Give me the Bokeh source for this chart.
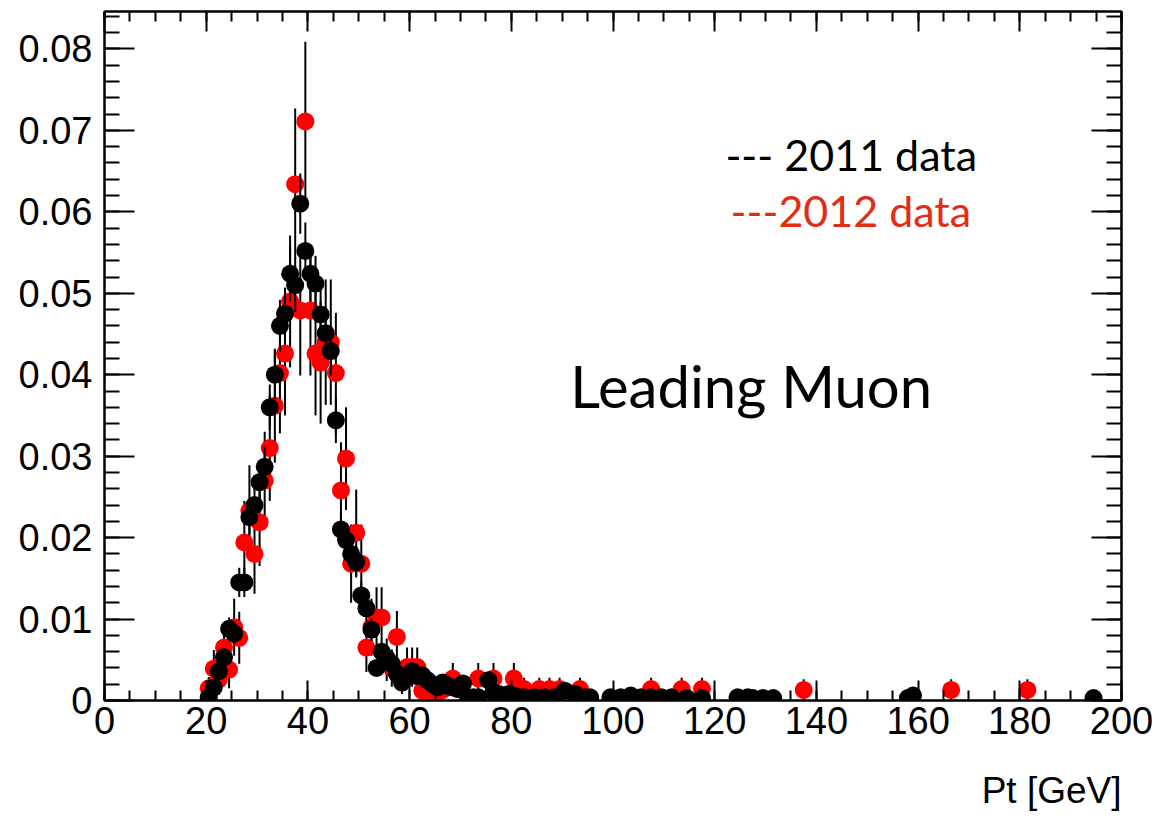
import numpy as np
from bokeh.plotting import figure
from bokeh.models import (LinearAxis, Range1d, SingleIntervalTicker,
                          CustomJSTickFormatter, Label, Title, ColumnDataSource)
from bokeh.embed import file_html
from bokeh.resources import INLINE

# ---------------- data ----------------
pt_2011 = [20.5, 21.5, 22.5, 23.5, 24.5, 25.5, 26.5, 27.5, 28.5, 29.5,
           30.5, 31.5, 32.5, 33.5, 34.5, 35.5, 36.5, 37.5, 38.5, 39.5,
           40.5, 41.5, 42.5, 43.5, 44.5, 45.5, 46.5, 47.5, 48.5, 49.5,
           50.5, 51.5, 52.5, 53.5, 54.5, 55.5, 56.5, 57.5, 58.5, 59.5,
           60.5, 61.5, 62.5, 63.5, 64.5, 65.5, 66.5, 67.5, 68.5, 69.5,
           70.5, 71.5, 72.5, 73.5, 75.5, 76.5, 77.5, 78.5, 79.5, 80.5,
           81.5, 82.5, 84.5, 86.5, 88.5, 90.5, 92.5, 94.5, 95.5, 99.5,
           101.5, 103.5, 105.5, 107.5, 109.5, 111.5, 114.5, 117.5, 124.5, 126.5,
           127.5, 129.5, 131.5, 158.0, 159.0, 194.5]
val_2011 = [0.0004, 0.0016, 0.0036, 0.0053, 0.0088, 0.0082, 0.0145, 0.0145, 0.0225, 0.0240,
            0.0268, 0.0287, 0.0360, 0.0400, 0.0460, 0.0475, 0.0524, 0.0510, 0.0610, 0.0552,
            0.0524, 0.0512, 0.0474, 0.0451, 0.0429, 0.0344, 0.0210, 0.0197, 0.0180, 0.0170,
            0.0129, 0.0113, 0.0087, 0.0040, 0.0060, 0.0052, 0.0045, 0.0033, 0.0022, 0.0029,
            0.0036, 0.0030, 0.0031, 0.0025, 0.0020, 0.0016, 0.0022, 0.0018, 0.0016, 0.0014,
            0.0021, 0.0004, 0.0004, 0.0004, 0.0025, 0.0010, 0.0008, 0.0006, 0.0008, 0.0006,
            0.0004, 0.0004, 0.0004, 0.0004, 0.0004, 0.0012, 0.0008, 0.0004, 0.0004, 0.0004,
            0.0004, 0.0006, 0.0004, 0.0004, 0.0004, 0.0004, 0.0003, 0.0003, 0.0004, 0.0004,
            0.0003, 0.0003, 0.0003, 0.0003, 0.0006, 0.0003]
err_2011 = [0.0003, 0.0006, 0.0009, 0.0011, 0.0014, 0.0013, 0.0018, 0.0018, 0.0022, 0.0023,
            0.0024, 0.0025, 0.0028, 0.0030, 0.0032, 0.0032, 0.0034, 0.0033, 0.0037, 0.0035,
            0.0034, 0.0034, 0.0032, 0.0031, 0.0031, 0.0028, 0.0021, 0.0021, 0.0020, 0.0019,
            0.0017, 0.0016, 0.0014, 0.0009, 0.0011, 0.0011, 0.0010, 0.0009, 0.0007, 0.0008,
            0.0009, 0.0008, 0.0008, 0.0007, 0.0007, 0.0006, 0.0007, 0.0006, 0.0006, 0.0006,
            0.0007, 0.0003, 0.0003, 0.0003, 0.0007, 0.0005, 0.0004, 0.0004, 0.0004, 0.0004,
            0.0003, 0.0003, 0.0003, 0.0003, 0.0003, 0.0005, 0.0004, 0.0003, 0.0003, 0.0003,
            0.0003, 0.0004, 0.0003, 0.0003, 0.0003, 0.0003, 0.0003, 0.0003, 0.0003, 0.0003,
            0.0003, 0.0003, 0.0003, 0.0003, 0.0004, 0.0003]

pt_2012 = [20.5, 21.5, 22.5, 23.5, 24.5, 25.5, 26.5, 27.5, 28.5, 29.5,
           30.5, 31.5, 32.5, 33.5, 34.5, 35.5, 36.5, 37.5, 38.5, 39.5,
           40.5, 41.5, 42.5, 43.5, 44.5, 45.5, 46.5, 47.5, 48.5, 49.5,
           50.5, 51.5, 52.5, 53.5, 54.5, 55.5, 56.5, 57.5, 58.5, 59.5,
           60.5, 61.5, 62.5, 63.5, 65.5, 66.5, 68.5, 73.5, 76.5, 80.5,
           82.5, 85.5, 87.5, 89.5, 93.5, 107.5, 113.5, 117.5, 137.5, 166.5,
           181.5]
val_2012 = [0.0015, 0.0039, 0.0026, 0.0065, 0.0038, 0.0090, 0.0077, 0.0194, 0.0233, 0.0180,
            0.0219, 0.0270, 0.0310, 0.0362, 0.0402, 0.0426, 0.0490, 0.0634, 0.0479, 0.0711,
            0.0479, 0.0426, 0.0415, 0.0440, 0.0440, 0.0402, 0.0258, 0.0297, 0.0168, 0.0206,
            0.0168, 0.0065, 0.0090, 0.0102, 0.0102, 0.0050, 0.0040, 0.0078, 0.0027, 0.0041,
            0.0041, 0.0041, 0.0012, 0.0012, 0.0010, 0.0013, 0.0027, 0.0027, 0.0027, 0.0027,
            0.0014, 0.0014, 0.0014, 0.0014, 0.0014, 0.0014, 0.0014, 0.0014, 0.0013, 0.0013,
            0.0013]
err_2012 = [0.0014, 0.0023, 0.0019, 0.0030, 0.0023, 0.0035, 0.0032, 0.0051, 0.0056, 0.0049,
            0.0054, 0.0060, 0.0065, 0.0070, 0.0074, 0.0076, 0.0081, 0.0093, 0.0080, 0.0098,
            0.0080, 0.0076, 0.0075, 0.0077, 0.0077, 0.0074, 0.0059, 0.0063, 0.0048, 0.0053,
            0.0048, 0.0030, 0.0035, 0.0037, 0.0037, 0.0026, 0.0023, 0.0032, 0.0019, 0.0024,
            0.0024, 0.0024, 0.0013, 0.0013, 0.0012, 0.0013, 0.0019, 0.0019, 0.0019, 0.0019,
            0.0014, 0.0014, 0.0014, 0.0014, 0.0014, 0.0014, 0.0014, 0.0014, 0.0013, 0.0013,
            0.0013]

x_title = "Pt [GeV]"
legend_2011 = "--- 2011 data"
legend_2012 = "---2012 data"
plot_label = "Leading Muon"

# ---------------- figure ----------------
p = figure(width=1154, height=813,
           x_range=Range1d(0, 200), y_range=Range1d(0, 0.0846),
           output_backend="svg", toolbar_location=None,
           x_axis_type=None, y_axis_type=None,
           min_border_left=104, min_border_right=33,
           min_border_top=11, min_border_bottom=113)
p.background_fill_color = "white"
p.border_fill_color = "white"
p.outline_line_color = "black"
p.outline_line_width = 2

TICK_FONT = "Liberation Sans"


def style_axis(ax, major_in, minor_in, show_labels):
    ax.major_tick_in = major_in
    ax.major_tick_out = 0
    ax.minor_tick_in = minor_in
    ax.minor_tick_out = 0
    ax.axis_line_color = "black"
    ax.axis_line_width = 2
    ax.major_tick_line_color = "black"
    ax.major_tick_line_width = 2
    ax.minor_tick_line_color = "black"
    ax.minor_tick_line_width = 2
    if show_labels:
        ax.major_label_text_font = TICK_FONT
        ax.major_label_text_font_size = "38px"
        ax.major_label_text_color = "black"
    else:
        ax.major_label_text_font_size = "0px"
        ax.major_label_standoff = 0
        ax.major_label_text_color = None


xb = LinearAxis(ticker=SingleIntervalTicker(interval=20, num_minor_ticks=4))
style_axis(xb, 20, 10, True)
xb.major_label_standoff = 6
p.add_layout(xb, "below")

# invisible spacer axis (no text, no visible lines) to push the x title down
sp = LinearAxis(ticker=SingleIntervalTicker(interval=20, num_minor_ticks=0))
sp.major_tick_in = 0
sp.major_tick_out = 31
sp.minor_tick_in = 0
sp.minor_tick_out = 0
sp.axis_line_alpha = 0
sp.major_tick_line_alpha = 0
sp.minor_tick_line_alpha = 0
sp.major_label_text_font_size = "0px"
sp.major_label_standoff = 0
sp.major_label_text_alpha = 0
p.add_layout(sp, "below")

# x-axis title, right-aligned below the axis
t = Title(text=x_title, align="right", text_font=TICK_FONT,
          text_font_size="37px", text_font_style="normal",
          text_color="black", standoff=0)
p.add_layout(t, "below")

xt = LinearAxis(ticker=SingleIntervalTicker(interval=20, num_minor_ticks=4))
style_axis(xt, 20, 10, False)
p.add_layout(xt, "above")

yfmt = CustomJSTickFormatter(code="return Math.abs(tick) < 1e-9 ? '0' : tick.toFixed(2);")
yl = LinearAxis(ticker=SingleIntervalTicker(interval=0.01, num_minor_ticks=5),
                formatter=yfmt)
style_axis(yl, 30, 15, True)
yl.major_label_standoff = 12
p.add_layout(yl, "left")

yr = LinearAxis(ticker=SingleIntervalTicker(interval=0.01, num_minor_ticks=5))
style_axis(yr, 30, 15, False)
p.add_layout(yr, "right")

# ---------------- data marks ----------------
v12 = np.array(val_2012)
e12 = np.array(err_2012)
src12 = ColumnDataSource(dict(x=pt_2012, y=val_2012,
                              lo=(v12 - e12).tolist(), hi=(v12 + e12).tolist()))
v11 = np.array(val_2011)
e11 = np.array(err_2011)
src11 = ColumnDataSource(dict(x=pt_2011, y=val_2011,
                              lo=(v11 - e11).tolist(), hi=(v11 + e11).tolist()))

p.segment(x0="x", y0="lo", x1="x", y1="hi", source=src12,
          line_color="black", line_width=2)
p.scatter(x="x", y="y", source=src12, marker="circle", size=18,
          fill_color="#ff0000", line_color="#ff0000", line_width=0)

p.segment(x0="x", y0="lo", x1="x", y1="hi", source=src11,
          line_color="black", line_width=2)
p.scatter(x="x", y="y", source=src11, marker="circle", size=18,
          fill_color="black", line_color="black", line_width=0)

# ---------------- texts ----------------
p.add_layout(Label(x=122.1, y=0.0670, text=legend_2011, text_font="Lato",
                   text_font_size="43px", text_color="black",
                   text_baseline="middle", text_align="left"))
p.add_layout(Label(x=123.1, y=0.0602, text=legend_2012, text_font="Lato",
                   text_font_size="43px", text_color="#e22d14",
                   text_baseline="middle", text_align="left"))
p.add_layout(Label(x=91.6, y=0.0387, text=plot_label, text_font="Lato",
                   text_font_size="58px", text_color="black",
                   text_baseline="middle", text_align="left"))

open("out.html", "w").write(file_html(p, INLINE))
